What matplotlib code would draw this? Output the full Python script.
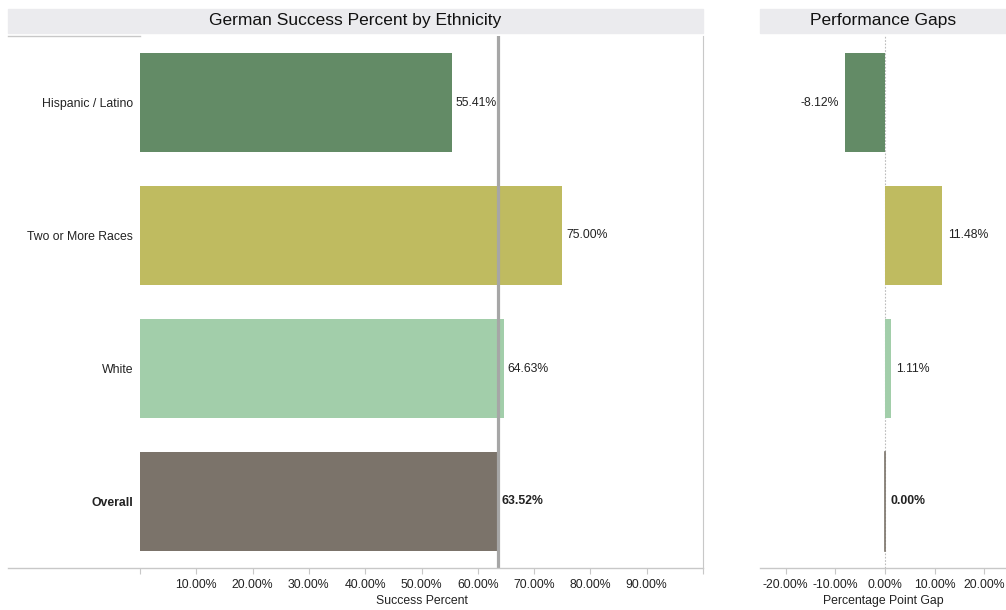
import numpy as np
import matplotlib.pyplot as plt
from matplotlib.lines import Line2D
from matplotlib.patches import Rectangle

plt.rcParams['font.family'] = ['Liberation Sans', 'DejaVu Sans']

# data
groups = ['Hispanic / Latino', 'Two or More Races', 'White', 'Overall']
success = [55.41, 75.00, 64.63, 63.52]
gaps = [-8.12, 11.48, 1.11, 0.00]
colors = ['#638b66', '#bfbb60', '#a2ceaa', '#7b736a']
overall = 63.52
xticks1 = [0, 10, 20, 30, 40, 50, 60, 70, 80, 90, 100]
xticks2 = [-20, -10, 0, 10, 20]

W, H = 1006, 610
fig = plt.figure(figsize=(W / 100, H / 100), dpi=100)

def fx(px):
    return px / W

def fy(py):
    return 1 - py / H

grey = '#c8c8c8'
txt = '#222222'
fs = 8.8
y = np.arange(len(groups))

# title bands
for x0, x1, title in [(8, 703, 'German Success Percent by Ethnicity'),
                      (760, 1006, 'Performance Gaps')]:
    fig.patches.append(Rectangle((fx(x0), fy(33)), fx(x1 - x0), (33 - 9) / H,
                                 transform=fig.transFigure, color='#ebebee', zorder=0))
    fig.text(fx((x0 + x1) / 2), fy(21), title, ha='center', va='center',
             fontsize=12.5, color='#111111')

# left panel
ax1 = fig.add_axes([fx(140), fy(568), fx(703 - 140), (568 - 36) / H])
ax1.barh(y, success, height=0.75, color=colors)
ax1.axvline(overall, color='#a6a6a6', lw=2.3, zorder=3)
ax1.set_xlim(0, 100)
ax1.set_ylim(3.5, -0.5)
for i, v in enumerate(success):
    ax1.text(v + 0.7, i, f'{v:.2f}%', va='center', ha='left', fontsize=fs, color=txt,
             fontweight='bold' if groups[i] == 'Overall' else 'normal', zorder=4)
ax1.set_yticks(y)
ax1.set_yticklabels(groups, fontsize=fs, color=txt)
for lab in ax1.get_yticklabels():
    if lab.get_text() == 'Overall':
        lab.set_fontweight('bold')
ax1.tick_params(axis='y', length=0, pad=5)
ax1.set_xticks(xticks1)
ax1.set_xticklabels(['' if t in (0, 100) else f'{t:.2f}%' for t in xticks1],
                    fontsize=fs, color=txt)
ax1.tick_params(axis='x', length=4, color=grey, pad=4)
ax1.set_xlabel('Success Percent', fontsize=fs, color=txt, labelpad=3)
for s in ['top', 'left', 'bottom']:
    ax1.spines[s].set_visible(False)
ax1.spines['right'].set_color(grey)

# right panel
ax2 = fig.add_axes([fx(760), fy(568), fx(1006 - 760), (568 - 36) / H])
ax2.barh(y, gaps, height=0.75, color=colors)
ax2.axvline(0, color='#bbbbbb', lw=0.8, ls=(0, (1.5, 1.5)), zorder=0)
ax2.plot([0, 0], [2.625, 3.375], color='#7b736a', lw=1.2, zorder=3)
ax2.set_xlim(-25.15, 24.35)
ax2.set_ylim(3.5, -0.5)
for i, v in enumerate(gaps):
    if v < 0:
        ax2.text(v - 1.2, i, f'{v:.2f}%', va='center', ha='right', fontsize=fs, color=txt)
    else:
        ax2.text(v + 1.2, i, f'{v:.2f}%', va='center', ha='left', fontsize=fs, color=txt,
                 fontweight='bold' if groups[i] == 'Overall' else 'normal')
ax2.set_yticks([])
ax2.set_xticks(xticks2)
ax2.set_xticklabels([f'{t:.2f}%' for t in xticks2], fontsize=fs, color=txt)
ax2.tick_params(axis='x', length=4, color=grey, pad=4)
ax2.set_xlabel('Percentage Point Gap', fontsize=fs, color=txt, labelpad=3)
for s in ['top', 'left', 'right', 'bottom']:
    ax2.spines[s].set_visible(False)

# separator lines
fig.lines.append(Line2D([fx(8), fx(703)], [fy(568), fy(568)], color=grey, lw=1,
                        transform=fig.transFigure))
fig.lines.append(Line2D([fx(760), fx(1006)], [fy(568), fy(568)], color=grey, lw=1,
                        transform=fig.transFigure))
fig.lines.append(Line2D([fx(8), fx(140)], [fy(36), fy(36)], color=grey, lw=1,
                        transform=fig.transFigure))

fig.savefig('out.png', dpi=100)
